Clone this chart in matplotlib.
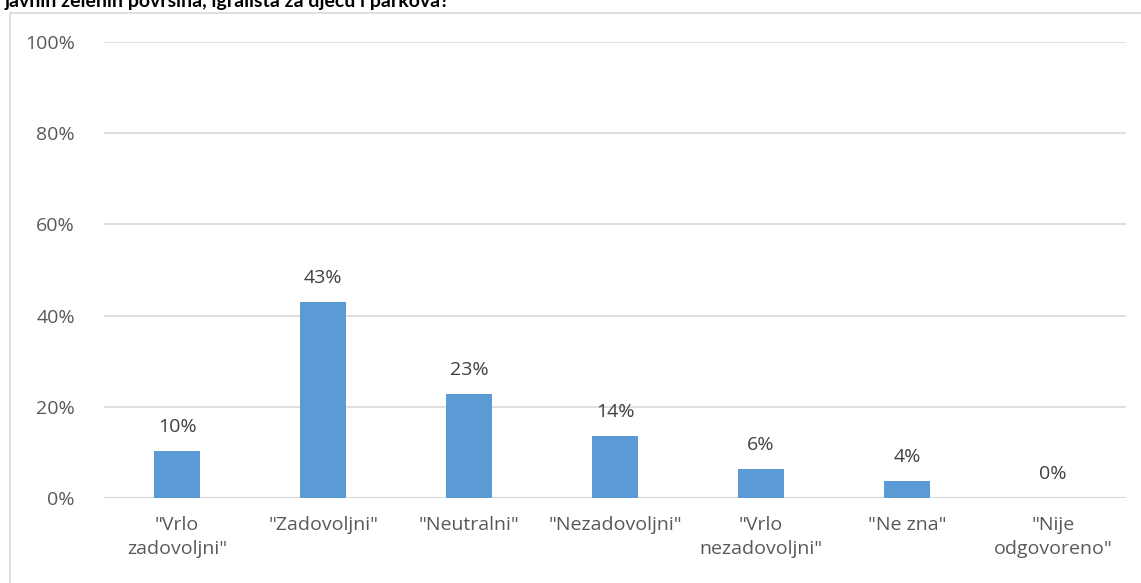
import numpy as np
import matplotlib.pyplot as plt
from matplotlib.patches import Rectangle

# data
categories = ['"Vrlo\nzadovoljni"', '"Zadovoljni"', '"Neutralni"', '"Nezadovoljni"',
              '"Vrlo\nnezadovoljni"', '"Ne zna"', '"Nije\nodgovoreno"']
values = [10.3, 43.0, 22.8, 13.6, 6.4, 3.7, 0.0]
value_labels = ["10%", "43%", "23%", "14%", "6%", "4%", "0%"]
y_ticks = [0, 20, 40, 60, 80, 100]
title = "javnih zelenih površina, igrališta za djecu i parkova?"

plt.rcParams['font.family'] = ['Open Sans', 'DejaVu Sans']

W, H = 1141, 583
fig = plt.figure(figsize=(W / 100, H / 100), dpi=100)

# chart border (cut off at right and bottom)
fig.patches.append(Rectangle((10 / W, -0.1), 1.2, 1 - 13 / H + 0.1, transform=fig.transFigure,
                             fill=False, edgecolor='#d9d9d9', linewidth=1.2))

# clipped title
fig.text(5 / W, 1 - 7 / H, title, fontsize=14, fontweight='bold', color='black',
         family=['Lato', 'DejaVu Sans'], ha='left', va='baseline')

ax = fig.add_axes([104 / W, 1 - 498 / H, 1022 / W, 456 / H])
x = np.arange(len(categories))
ax.bar(x, values, width=0.315, color='#5b9bd5', zorder=3)

for xi, v, lab in zip(x, values, value_labels):
    ax.text(xi, v + 3.3, lab, ha='center', va='bottom', fontsize=14, color='#404040')

ax.set_xlim(-0.5, len(categories) - 0.5)
ax.set_ylim(0, 100)
ax.set_yticks(y_ticks)
ax.set_yticklabels([f"{t}%" for t in y_ticks])
ax.set_xticks(x)
ax.set_xticklabels(categories, fontsize=14, color='#595959', linespacing=1.45)
ax.tick_params(axis='y', labelsize=14, labelcolor='#595959', length=0, pad=21)
ax.tick_params(axis='x', length=0, pad=13)
ax.grid(axis='y', color='#d9d9d9', linewidth=1.2, zorder=0)
for s in ax.spines.values():
    s.set_visible(False)
ax.axhline(0, color='#d9d9d9', linewidth=1.5, zorder=2)

fig.savefig('out.png', dpi=100)
